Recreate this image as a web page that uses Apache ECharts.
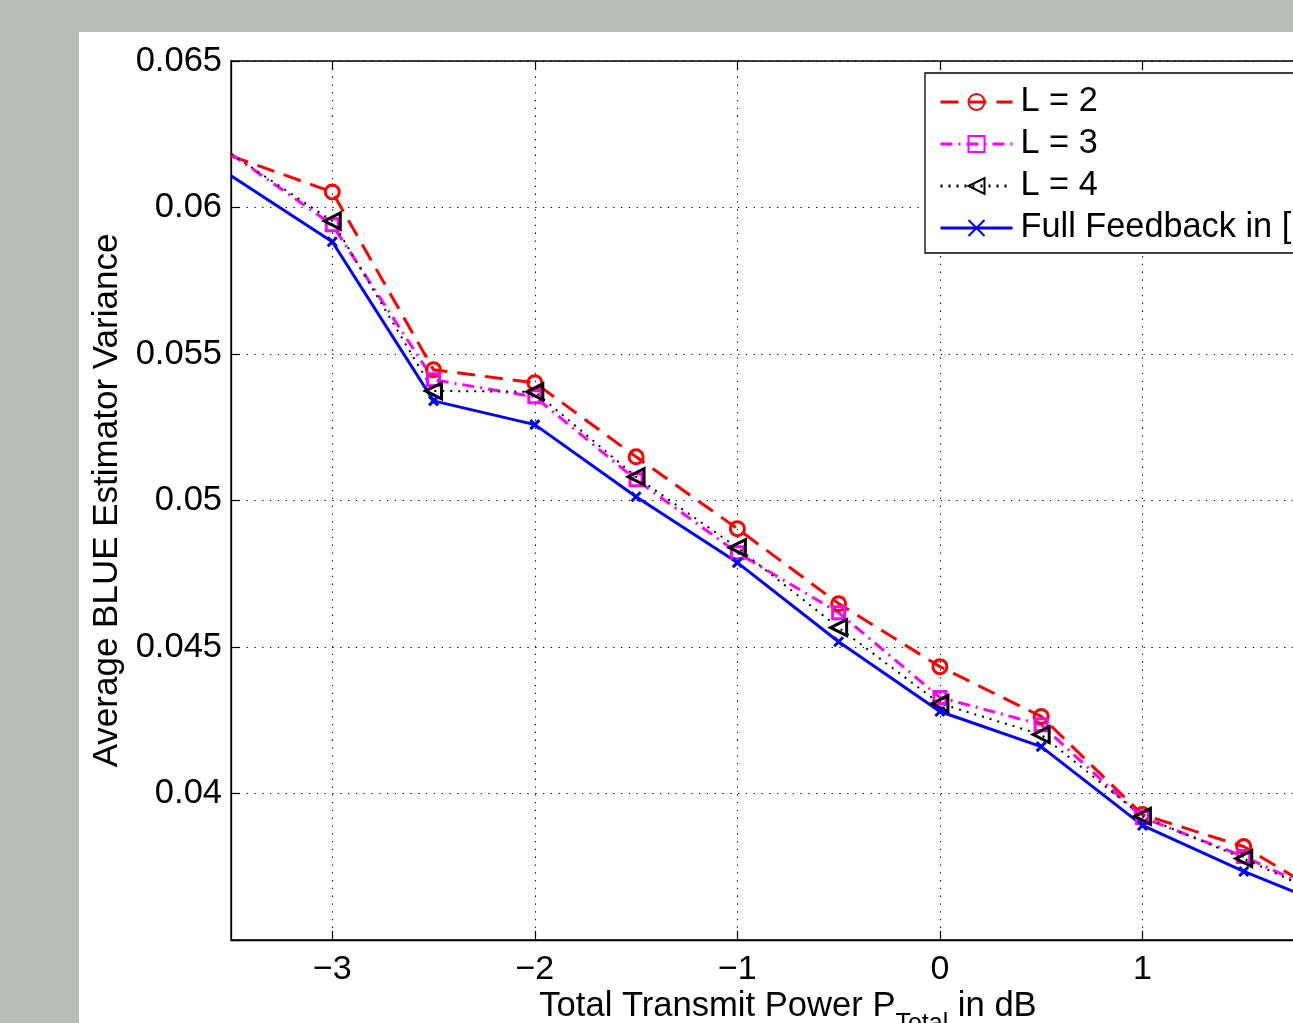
<!DOCTYPE html>
<html><head><meta charset="utf-8">
<script src="https://cdn.jsdelivr.net/npm/echarts@6/dist/echarts.min.js"></script>
<style>html,body{margin:0;padding:0;overflow:hidden;background:#b9bbb6;width:1293px;height:1023px}#c{width:1400px;height:1023px}</style>
</head><body><div id="c"></div>
<script>
const xValues = [-3.5, -3, -2.5, -2, -1.5, -1, -0.5, 0, 0.5, 1, 1.5, 2];
const seriesNames = ['L = 2', 'L = 3', 'L = 4', 'Full Feedback in ['];
const L2 = [0.06176, 0.06053, 0.05446, 0.05402, 0.05149, 0.04904, 0.04648, 0.04433, 0.04263, 0.03928, 0.03819, 0.03611];
const L3 = [0.06183, 0.05941, 0.05412, 0.05354, 0.05071, 0.04822, 0.04617, 0.04328, 0.04235, 0.03918, 0.03785, 0.03625];
const L4 = [0.06183, 0.05954, 0.05374, 0.05371, 0.05081, 0.04839, 0.04566, 0.04307, 0.04201, 0.03922, 0.03778, 0.03618];
const FULL = [0.06108, 0.05883, 0.05340, 0.05259, 0.05013, 0.04788, 0.04518, 0.04280, 0.04160, 0.03891, 0.03734, 0.03594];
const xTicks = [-3, -2, -1, 0, 1, 2];
const yTicks = [0.04, 0.045, 0.05, 0.055, 0.06, 0.065];

const FONT = '"Liberation Sans", Arial, sans-serif';
function pts(arr){
  return arr.map((v,i)=> i===0 ? {value:[xValues[i], v], symbol:'none'} : [xValues[i], v]);
}
const triLeft = 'path://M0,5 L10,0 L10,10 Z';
const xMark = 'path://M0,0 L10,10 M10,0 L0,10';
function mk(name, data, color, type, width, symbol, size, bw){
  return {
    name, type:'line', data: pts(data), symbol, symbolSize:size, showAllSymbol:true,
    lineStyle:{color, width, type},
    itemStyle:{color:'rgba(255,255,255,0)', borderColor:color, borderWidth: bw},
    emphasis:{disabled:true}, animation:false, z: 3
  };
}
const fmtX = v => String(v).replace('-', '\u2212');
const chart = echarts.init(document.getElementById('c'), null, {renderer:'canvas'});
chart.setOption({
  backgroundColor:'#b9bbb6',
  animation:false,
  graphic:[{type:'rect', left:79, top:32, shape:{width:1400, height:1000}, style:{fill:'#ffffff'}, z:-10}],
  grid:{left:231, top:61, width:1114, height:879, show:true, borderColor:'#000', borderWidth:1.3, backgroundColor:'#fff', outerBoundsMode:'none', containLabel:false},
  legend:{
    left:925, top:73, orient:'vertical', backgroundColor:'#fff', borderColor:'#000', borderWidth:1.3,
    padding:[12,120,8,14], itemWidth:72, itemHeight:20, itemGap:8,
    lineStyle:{width:3},
    textStyle:{fontFamily:FONT, fontSize:34.3, color:'#000', lineHeight:34, padding:[0,0,0,3]},
    data: seriesNames
  },
  xAxis:[{
    type:'value', min:-3.5, max:2, position:'bottom',
    axisLine:{show:true, onZero:false, lineStyle:{color:'#000', width:1.3}},
    axisTick:{show:true, inside:true, length:9, customValues:xTicks, lineStyle:{color:'#000', width:1.2}},
    axisLabel:{fontFamily:FONT, fontSize:34, color:'#000', margin:13, customValues:xTicks, formatter:fmtX},
    splitLine:{show:true, lineStyle:{color:'#000', width:1.1, type:[1.3,6.5]}},
    name:'{t|Total Transmit Power P}{s|Total}{t| in dB}', nameLocation:'middle', nameGap:48, nameMoveOverlap:false,
    nameTextStyle:{verticalAlign:'top', rich:{t:{fontFamily:FONT, fontSize:34.6, color:'#000', lineHeight:36}, s:{fontFamily:FONT, fontSize:25, color:'#000', padding:[36,0,0,0], lineHeight:36}}}
  },{
    type:'value', min:-3.5, max:2, position:'top',
    axisLine:{show:false, onZero:false}, axisLabel:{show:false}, splitLine:{show:false},
    axisTick:{show:true, inside:true, length:9, customValues:xTicks, lineStyle:{color:'#000', width:1.2}}
  }],
  yAxis:{
    type:'value', min:0.035, max:0.065, interval:0.005,
    axisLine:{show:true, onZero:false, lineStyle:{color:'#000', width:1.3}},
    axisTick:{show:true, inside:true, length:9, lineStyle:{color:'#000', width:1.2}},
    axisLabel:{fontFamily:FONT, fontSize:34.5, color:'#000', margin:9,
      formatter:v=>{ const r = Math.round(v*1000)/1000; return yTicks.some(t=>Math.abs(t-r)<1e-9) ? String(parseFloat(r.toFixed(3))) : ''; }},
    splitLine:{show:true, lineStyle:{color:'#000', width:1.1, type:[1.3,6.5]}},
    name:'Average BLUE Estimator Variance', nameLocation:'middle', nameGap:106, nameMoveOverlap:false,
    nameTextStyle:{fontFamily:FONT, fontSize:35, color:'#000'}
  },
  series:[
    mk(seriesNames[0], L2, '#ff0000', [18,10], 3, 'circle', 14, 3),
    mk(seriesNames[1], L3, '#ff00ff', [12,6,2,6], 3, 'rect', 12, 3),
    mk(seriesNames[2], L4, '#000000', [2,6], 2, triLeft, 16, 3),
    mk(seriesNames[3], FULL, '#0000ff', 'solid', 3, xMark, 9, 3)
  ]
});
</script></body></html>
